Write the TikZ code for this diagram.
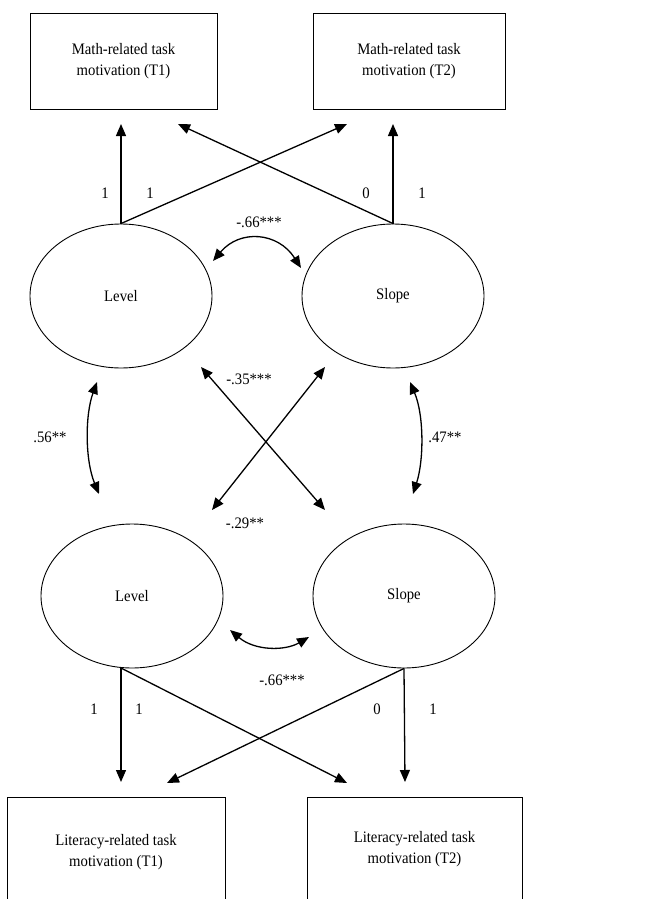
\documentclass[tikz,border=0pt]{standalone}
\usepackage{fontspec}
\setmainfont[FakeStretch=0.92]{Liberation Serif}
\usepackage{tikz}
\usetikzlibrary{arrows.meta}
\usetikzlibrary{shapes}

\tikzset{
  obsbox/.style={draw, rectangle, line width=0.9pt, align=center, minimum height=96pt},
  latent/.style={draw, ellipse, line width=0.9pt, minimum width=182pt, minimum height=144pt},
  onehead/.style={-{Triangle[length=12pt,width=10pt]}, line width=1.3pt},
  twohead/.style={{Triangle[length=12pt,width=10pt]}-{Triangle[length=12pt,width=10pt]}, line width=1.3pt}
}

\begin{document}
\begin{tikzpicture}[x=1pt, y=-1pt, every node/.style={font=\fontsize{16}{21}\selectfont}]
      \useasboundingbox (0,0) rectangle (661,899);
      % observed and latent variables
      \node[obsbox, minimum width=187pt]  (m_1)   at (123.5,61) {Math-related task\\motivation (T1)};
      \node[obsbox, minimum width=192pt]  (m_2)   at (409,61)   {Math-related task\\motivation (T2)};
      \node[latent]                       (lev_m) at (121,296)  {Level};
      \node[latent]                       (slo_m) at (393,296)  {Slope};
      \node[latent]                       (lev_l) at (132,596)  {Level};
      \node[latent]                       (slo_l) at (404,596)  {Slope};
      \node[obsbox, minimum width=218pt, minimum height=110pt] (l_1) at (116,852)   {Literacy-related task\\motivation (T1)};
      \node[obsbox, minimum width=215pt, minimum height=104pt] (l_2) at (414.5,849) {Literacy-related task\\motivation (T2)};
      % arrow ends
      \coordinate (m_1a) at (121,124);
      \coordinate (m_1b) at (178,124);
      \coordinate (m_2a) at (347,124);
      \coordinate (m_2b) at (393,124);
      \coordinate (lev_lo) at (121,668);
      \coordinate (l_1a) at (121,782);
      \coordinate (l_1b) at (167,783);
      \coordinate (l_2a) at (347,783);
      \coordinate (l_2b) at (405,782);
      % loadings
      \draw[onehead] (lev_m.north) -- (m_1a);
      \draw[onehead] (lev_m.north) -- (m_2a);
      \draw[onehead] (slo_m.north) -- (m_2b);
      \draw[onehead] (slo_m.north) -- (m_1b);
      \draw[onehead] (lev_lo) -- (l_1a);
      \draw[onehead] (lev_lo) -- (l_2a);
      \draw[onehead] (slo_l.south) -- (l_2b);
      \draw[onehead] (slo_l.south) -- (l_1b);
      \node (w_1) at (105,193) {1};
      \node (w_2) at (150,193) {1};
      \node (w_3) at (366,193) {0};
      \node (w_4) at (422,193) {1};
      \node (w_5) at (94,709)  {1};
      \node (w_6) at (139,709) {1};
      \node (w_7) at (377,709) {0};
      \node (w_8) at (433,709) {1};
      % covariances
      \coordinate (c_1) at (213,261);
      \coordinate (c_2) at (301,268);
      \coordinate (c_3) at (97,382);
      \coordinate (c_4) at (99,494);
      \coordinate (c_5) at (410,382);
      \coordinate (c_6) at (413,494);
      \coordinate (c_7) at (230,630);
      \coordinate (c_8) at (309,637);
      \coordinate (x_1) at (201,367);
      \coordinate (x_2) at (325,510);
      \coordinate (x_3) at (325,367);
      \coordinate (x_4) at (212,510);
      \draw[twohead] (c_1) .. controls (240,229) and (278,232) .. (c_2);
      \draw[twohead] (c_3) .. controls (85,415) and (85,460) .. (c_4);
      \draw[twohead] (c_5) .. controls (424,415) and (424,460) .. (c_6);
      \draw[twohead] (c_7) .. controls (255,651) and (285,651) .. (c_8);
      \draw[twohead] (x_1) -- (x_2);
      \draw[twohead] (x_3) -- (x_4);
      \node (r_1) at (259,222) {-.66***};
      \node (r_2) at (249,379) {-.35***};
      \node (r_3) at (245,523) {-.29**};
      \node (r_4) at (50,437)  {.56**};
      \node (r_5) at (445,437) {.47**};
      \node (r_6) at (282,680) {-.66***};
    \end{tikzpicture}
\end{document}
